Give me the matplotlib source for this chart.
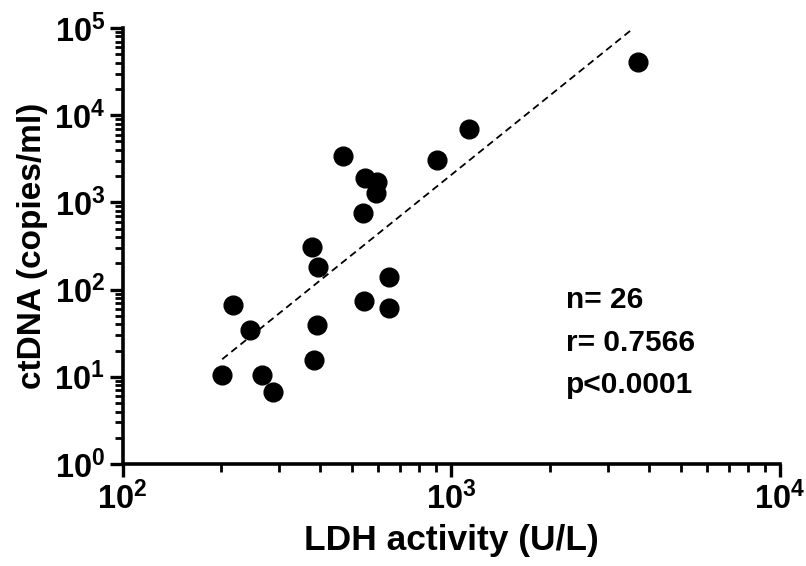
import matplotlib
matplotlib.use("Agg")
import matplotlib.pyplot as plt
import numpy as np
from matplotlib.ticker import LogLocator, NullFormatter

plt.rcParams['font.family'] = ['Liberation Sans', 'DejaVu Sans']
plt.rcParams['mathtext.fontset'] = 'custom'
plt.rcParams['mathtext.rm'] = 'Liberation Sans:bold'
plt.rcParams['mathtext.bf'] = 'Liberation Sans:bold'
plt.rcParams['mathtext.it'] = 'Liberation Sans:bold'

# Data
ldh = [1134, 907, 468, 547, 593, 590, 539, 378, 394, 645,
       543, 645, 217, 245, 390, 382, 201, 266, 286, 3692]
ctdna = [6890, 3040, 3430, 1890, 1700, 1270, 760, 305, 183, 139,
         75, 61, 67, 34.4, 39.3, 15.6, 10.4, 10.5, 6.7, 40760]

# regression line end points
fit_x = [201, 3580]
fit_y = [15.9, 99200]

x_ticks = [1e2, 1e3, 1e4]
x_tick_labels = [r'$\mathbf{10^{2}}$', r'$\mathbf{10^{3}}$', r'$\mathbf{10^{4}}$']
y_ticks = [1e0, 1e1, 1e2, 1e3, 1e4, 1e5]
y_tick_labels = [r'$\mathbf{10^{%d}}$' % i for i in range(6)]

stats_text = ["n= 26", "r= 0.7566", "p<0.0001"]

fig = plt.figure(figsize=(8.06, 5.66), dpi=100)
ax = fig.add_axes([0.152, 0.1802, 0.8157, 0.7703])

ax.set_xscale('log')
ax.set_yscale('log')
ax.set_xlim(1e2, 1e4)
ax.set_ylim(1e0, 1e5)

ax.plot(fit_x, fit_y, color='black', lw=1.3, ls=(0, (4, 2.5)))
ax.plot(ldh, ctdna, 'o', color='black', markersize=13.5, clip_on=False, zorder=3)

for s in ['top', 'right']:
    ax.spines[s].set_visible(False)
for s in ['left', 'bottom']:
    ax.spines[s].set_linewidth(2.6)

ax.set_xticks(x_ticks)
ax.set_xticklabels(x_tick_labels)
ax.set_yticks(y_ticks)
ax.set_yticklabels(y_tick_labels)
ax.xaxis.set_minor_locator(LogLocator(base=10, subs=np.arange(2, 10)))
ax.yaxis.set_minor_locator(LogLocator(base=10, subs=np.arange(2, 10)))
ax.xaxis.set_minor_formatter(NullFormatter())
ax.yaxis.set_minor_formatter(NullFormatter())
ax.tick_params(which='major', length=9.5, width=2.4, labelsize=23.5, pad=3)
ax.tick_params(which='minor', length=5.5, width=2.0)

ax.set_xlabel('LDH activity (U/L)', fontsize=25.5, fontweight='bold', labelpad=6)
ax.set_ylabel('ctDNA (copies/ml)', fontsize=24, fontweight='bold', labelpad=4)

ys = [300, 343, 385]
for t, yp in zip(stats_text, ys):
    fig.text(566 / 806, 1 - yp / 566, t, fontsize=21.5, fontweight='bold',
             va='center', ha='left')

fig.savefig('out.png', dpi=100)
